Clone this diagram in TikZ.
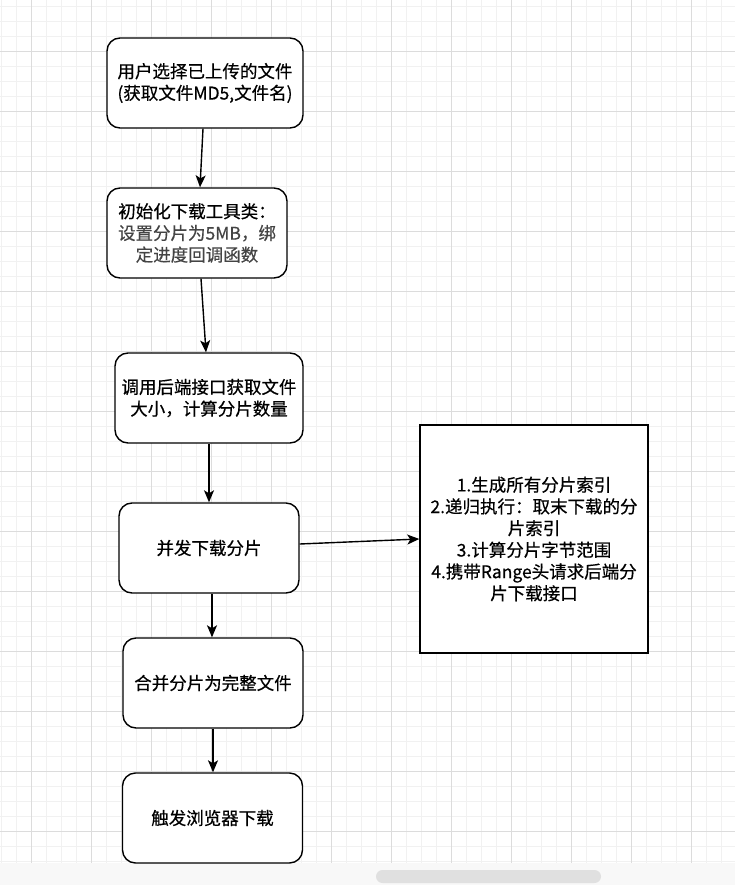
\documentclass[tikz,border=0pt]{standalone}
\usepackage{fontspec}
\setmainfont{Noto Sans CJK SC}[UprightFeatures={FakeBold=0.5}]
\usetikzlibrary{arrows.meta,calc}
\definecolor{gridminor}{HTML}{F1F1F1}
\definecolor{gridmajor}{HTML}{DCDCDC}
\definecolor{graytext}{HTML}{444444}
\definecolor{barbg}{HTML}{F8F8F8}
\definecolor{scroll}{HTML}{E0E0E0}
\tikzset{
  flowbox/.style={draw=black, line width=1.4pt, fill=white, rounded corners=13pt,
    minimum width=#1, minimum height=90pt, align=center, inner sep=0pt,
    font=\fontsize{17.5}{21.7}\selectfont},
  flowbox/.default=180pt,
  notebox/.style={draw=black, line width=1.4pt, fill=white,
    minimum width=228pt, minimum height=228pt, align=center, inner sep=0pt,
    font=\fontsize{17.5}{21.7}\selectfont},
  arr/.style={draw=black, line width=1.4pt, -{Stealth[length=12pt,width=10pt,inset=3pt]}}
}
\begin{document}
\begin{tikzpicture}[x=1pt,y=-1pt]
\useasboundingbox (0,0) rectangle (735,885);
\fill[white] (0,0) rectangle (735,863);
% grid
\foreach \k in {0,...,48} {\draw[gridminor, line width=0.8pt] ({1.7+15*\k},0) -- ({1.7+15*\k},863);}
\foreach \k in {0,...,57} {\draw[gridminor, line width=0.8pt] (0,{6.7+15*\k}) -- (735,{6.7+15*\k});}
\foreach \k in {0,...,11} {\draw[gridmajor, line width=0.9pt] ({31.7+60*\k},0) -- ({31.7+60*\k},863);}
\foreach \k in {0,...,13} {\draw[gridmajor, line width=0.9pt] (0,{51.7+60*\k}) -- (735,{51.7+60*\k});}
% bottom bar
\fill[barbg] (0,863) rectangle (735,885);
\fill[scroll, rounded corners=6.5pt] (376,870) rectangle (601,883);

% nodes
\node[flowbox=196pt] (n1) at (205,83) {用户选择已上传的文件\\(获取文件MD5,文件名)};
\node[flowbox] (n2) at (197,233) {初始化下载工具类：\\\textcolor{graytext}{设置分片为5MB，绑}\\\textcolor{graytext}{定进度回调函数}};
\node[flowbox=188pt] (n3) at (209,398) {调用后端接口获取文件\\大小，计算分片数量};
\node[flowbox] (n4) at (209,548) {并发下载分片};
\node[notebox] (n5) at (534,539) {1.生成所有分片索引\\2.递归执行：取末下载的分\\片索引\\3.计算分片字节范围\\4.携带Range头请求后端分\\片下载接口};
\node[flowbox] (n6) at (213,683) {合并分片为完整文件};
\node[flowbox] (n7) at (212.5,818) {触发浏览器下载};

% connectors
\draw[arr] ($(n1.south)+(-2,0)$) -- ($(n2.north)+(3,0)$);
\draw[arr] ($(n2.south)+(4,0)$) -- ($(n3.north)+(-3,0)$);
\draw[arr] (n3.south) -- (n4.north);
\draw[arr] ($(n4.east)+(0,-4)$) -- (n5.west);
\draw[arr] ($(n4.south)+(3,0)$) -- ($(n6.north)+(-1,0)$);
\draw[arr] (n6.south) -- ($(n7.north)+(0.5,0)$);
\end{tikzpicture}
\end{document}
